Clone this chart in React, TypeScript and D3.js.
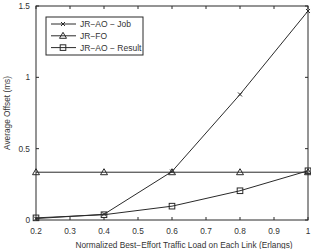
import React, { useRef, useEffect } from "react";
import * as d3 from "d3";

const loads = [0.2, 0.4, 0.6, 0.8, 1.0];
const jobOffset = [0.01, 0.04, 0.34, 0.88, 1.465];
const foOffset = [0.335, 0.335, 0.335, 0.335, 0.335];
const resultOffset = [0.015, 0.037, 0.097, 0.205, 0.345];
const xTicks = [0.2, 0.3, 0.4, 0.5, 0.6, 0.7, 0.8, 0.9, 1];
const yTicks = [0, 0.5, 1, 1.5];

const series = [
  { label: "JR\u2212AO \u2212 Job", values: jobOffset, marker: "x" },
  { label: "JR\u2212FO", values: foOffset, marker: "tri" },
  { label: "JR\u2212AO \u2212 Result", values: resultOffset, marker: "sq" },
];

const W = 311;
const H = 249;

const App = () => {
  const svgRef = useRef(null);

  useEffect(() => {
    const svg = d3.select(svgRef.current);
    svg.selectAll("*").remove();

    const margin = { top: 6, right: 3, bottom: 29, left: 36 };
    const x = d3.scaleLinear().domain([0.2, 1]).range([margin.left, W - margin.right]);
    const y = d3.scaleLinear().domain([0, 1.5]).range([H - margin.bottom, margin.top]);
    const stroke = "#2a2a2a";
    const font = "'Liberation Sans', Arial, sans-serif";

    const drawMarker = (g, type, cx, cy) => {
      if (type === "x") {
        g.append("path")
          .attr("d", `M${cx - 2},${cy - 2}L${cx + 2},${cy + 2}M${cx - 2},${cy + 2}L${cx + 2},${cy - 2}`)
          .attr("stroke", stroke).attr("fill", "none");
      } else if (type === "tri") {
        g.append("path")
          .attr("d", `M${cx},${cy - 3.5}L${cx + 3.5},${cy + 2.5}L${cx - 3.5},${cy + 2.5}Z`)
          .attr("stroke", stroke).attr("fill", "none");
      } else {
        g.append("rect")
          .attr("x", cx - 2.8).attr("y", cy - 2.8).attr("width", 5.6).attr("height", 5.6)
          .attr("stroke", stroke).attr("fill", "none");
      }
    };

    // frame
    svg.append("rect")
      .attr("x", x(0.2)).attr("y", y(1.5))
      .attr("width", x(1) - x(0.2)).attr("height", y(0) - y(1.5))
      .attr("fill", "none").attr("stroke", stroke);

    // ticks, inside on all sides
    const axisG = svg.append("g").attr("font-family", font).attr("font-size", 8.3).attr("fill", "#333");
    xTicks.forEach((t) => {
      axisG.append("line").attr("x1", x(t)).attr("x2", x(t)).attr("y1", y(0)).attr("y2", y(0) - 3).attr("stroke", stroke);
      axisG.append("line").attr("x1", x(t)).attr("x2", x(t)).attr("y1", y(1.5)).attr("y2", y(1.5) + 3).attr("stroke", stroke);
      axisG.append("text").attr("x", x(t)).attr("y", y(0) + 14).attr("text-anchor", "middle").text(d3.format("~g")(t));
    });
    yTicks.forEach((t) => {
      axisG.append("line").attr("x1", x(0.2)).attr("x2", x(0.2) + 3).attr("y1", y(t)).attr("y2", y(t)).attr("stroke", stroke);
      axisG.append("line").attr("x1", x(1)).attr("x2", x(1) - 3).attr("y1", y(t)).attr("y2", y(t)).attr("stroke", stroke);
      axisG.append("text").attr("x", x(0.2) - 6).attr("y", y(t) + 3).attr("text-anchor", "end").text(d3.format("~g")(t));
    });

    axisG.append("text")
      .attr("x", 184).attr("y", H - 1)
      .attr("text-anchor", "middle").text("Normalized Best\u2212Effort Traffic Load on Each Link (Erlangs)");
    axisG.append("text")
      .attr("transform", `translate(10,${(y(0) + y(1.5)) / 2}) rotate(-90)`)
      .attr("text-anchor", "middle").text("Average Offset (ms)");

    // lines
    const line = d3.line().x((d) => x(d[0])).y((d) => y(d[1]));
    series.forEach((s) => {
      const pts = loads.map((l, i) => [l, s.values[i]]);
      svg.append("path").attr("d", line(pts)).attr("fill", "none").attr("stroke", stroke).attr("stroke-width", 1);
      const mg = svg.append("g");
      pts.forEach((p) => drawMarker(mg, s.marker, x(p[0]), y(p[1])));
    });

    // legend
    const lg = svg.append("g").attr("transform", "translate(46,17)");
    lg.append("rect").attr("width", 97).attr("height", 38).attr("fill", "#fff").attr("stroke", stroke);
    series.forEach((s, i) => {
      const ry = 7 + i * 11.8;
      lg.append("line").attr("x1", 5).attr("x2", 30).attr("y1", ry).attr("y2", ry).attr("stroke", stroke);
      drawMarker(lg, s.marker, 17, ry);
      lg.append("text").attr("x", 34).attr("y", ry + 3)
        .attr("font-family", font).attr("font-size", 8.5).attr("fill", "#333").text(s.label);
    });
  }, []);

  return (
    <svg
      ref={svgRef}
      width={W}
      height={H}
      style={{ position: "fixed", left: 0, top: 0, background: "#fff" }}
    ></svg>
  );
};

export default App;
